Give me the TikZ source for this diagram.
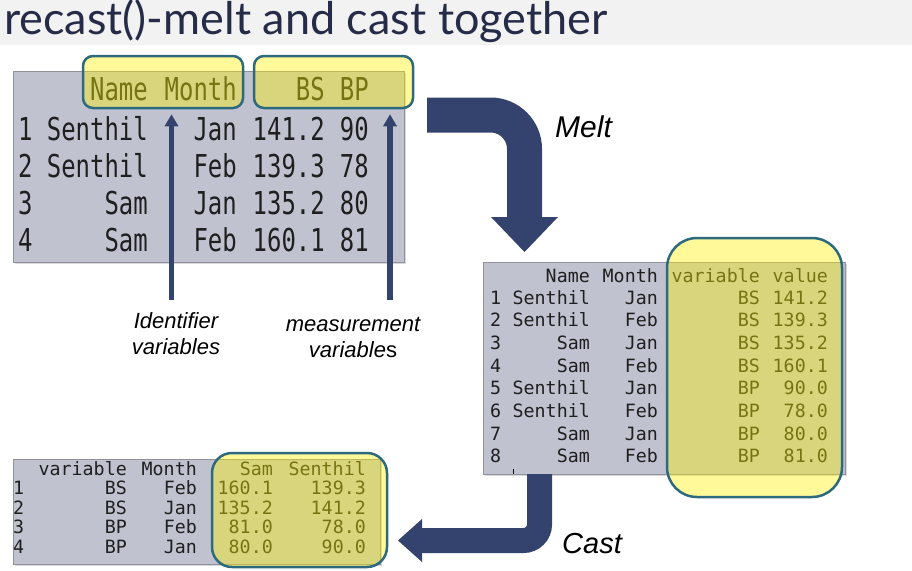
\documentclass[tikz,border=0pt]{standalone}
\usepackage{fontspec}
\setsansfont{Liberation Sans}
\newfontfamily\titlefont{Lato}
\newfontfamily\monofont{DejaVu Sans Mono}
\newfontfamily\tallmono{DejaVu Sans Mono}[FakeStretch=0.76]
\usetikzlibrary{arrows.meta,shadows}
\definecolor{navy}{HTML}{34426E}
\definecolor{slate}{HTML}{C0C2D0}
\definecolor{boxedge}{HTML}{2E6A7E}
\definecolor{titlegray}{HTML}{F2F2F2}
\definecolor{titleink}{HTML}{262C48}
\tikzset{
    tablebox/.style={fill=slate, draw=slate!75!black, line width=0.6pt, inner sep=0,
        drop shadow={shadow xshift=2pt, shadow yshift=-2pt, opacity=0.3}},
    hilite/.style={fill=yellow, fill opacity=0.4, draw=boxedge, draw opacity=1,
        line width=2.5pt, inner sep=0},
    bigcell/.style={font=\tallmono\fontsize{31.5}{36}\selectfont, inner sep=0, text=black!88},
    smallcell/.style={font=\monofont\fontsize{18.3}{22}\selectfont, inner sep=0, text=black!88},
    tag/.style={font=\sffamily\itshape\fontsize{22}{26}\selectfont, align=center, inner sep=0},
    ptr/.style={navy, line width=5.5pt, -{Triangle[width=13pt,length=12pt]}}
}
\begin{document}
\begin{tikzpicture}[x=1pt,y=-1pt]
    \useasboundingbox (0,0) rectangle (912,570);
    \fill[white] (0,0) rectangle (912,570);
    \fill[titlegray] (0,0) rectangle (912,45);
    \node[font=\titlefont\fontsize{45}{50}\selectfont, text=titleink, anchor=base west, inner sep=0]
        (title) at (4,34) {recast()-melt and cast together};

    % wide table
    \node[tablebox, minimum width=391pt, minimum height=191pt] (wide) at (208.5,166.5) {};
    \foreach \lbl/\xr [count=\c] in {Name/148, Month/237, BS/325, BP/369}
        \node[bigcell, anchor=base east] (wh-\c) at (\xr,100) {\lbl};
    \foreach \nm/\mo/\bs/\bp [count=\r] in {Senthil/Jan/141.2/90, Senthil/Feb/139.3/78,
                                              Sam/Jan/135.2/80, Sam/Feb/160.1/81} {
        \node[bigcell, anchor=base west] (w-\r-0) at (18,{103+37*\r}) {\r};
        \node[bigcell, anchor=base east] (w-\r-1) at (148,{103+37*\r}) {\nm};
        \node[bigcell, anchor=base east] (w-\r-2) at (237,{103+37*\r}) {\mo};
        \node[bigcell, anchor=base east] (w-\r-3) at (325,{103+37*\r}) {\bs};
        \node[bigcell, anchor=base east] (w-\r-4) at (369,{103+37*\r}) {\bp};
    }
    \node[hilite, rounded corners=10pt, minimum width=160pt, minimum height=52pt] (idbox) at (163,82) {};
    \node[hilite, rounded corners=10pt, minimum width=159pt, minimum height=52pt] (msbox) at (333.5,82) {};

    % pointers to the boxes
    \node[tag, anchor=base] (idlabel) at (176,354) {Identifier\\variables};
    \node[tag, anchor=base] (mslabel) at (353,357) {measurement\\variable{\upshape s}};
    \coordinate (idfoot) at (171.5,300);
    \coordinate (msfoot) at (390,300);
    \draw[ptr, shorten >=5pt] (idfoot) -- (idfoot |- idbox.south);
    \draw[ptr, shorten >=5pt] (msfoot) -- (msfoot |- msbox.south);

    % melt
    \draw[navy, line width=35pt, rounded corners=34pt] (427,115) -- (524.5,115) -- (524.5,217);
    \fill[navy] (491,217) -- (558,217) -- (524.5,252) -- cycle;
    \node[tag, font=\sffamily\itshape\fontsize{30}{34}\selectfont, anchor=base west] (melt) at (555,137) {Melt};

    % long table
    \node[tablebox, minimum width=362pt, minimum height=212pt] (long) at (664,368) {};
    \foreach \lbl/\xr [count=\c] in {Name/590, Month/658, variable/760, value/828}
        \node[smallcell, anchor=base east] (lh-\c) at (\xr,282) {\lbl};
    \foreach \nm/\mo/\var/\val [count=\r] in {Senthil/Jan/BS/141.2, Senthil/Feb/BS/139.3,
            Sam/Jan/BS/135.2, Sam/Feb/BS/160.1, Senthil/Jan/BP/90.0, Senthil/Feb/BP/78.0,
            Sam/Jan/BP/80.0, Sam/Feb/BP/81.0} {
        \node[smallcell, anchor=base west] (l-\r-0) at (490,{281.3+22.7*\r}) {\r};
        \node[smallcell, anchor=base east] (l-\r-1) at (590,{281.3+22.7*\r}) {\nm};
        \node[smallcell, anchor=base east] (l-\r-2) at (658,{281.3+22.7*\r}) {\mo};
        \node[smallcell, anchor=base east] (l-\r-3) at (760,{281.3+22.7*\r}) {\var};
        \node[smallcell, anchor=base east] (l-\r-4) at (828,{281.3+22.7*\r}) {\val};
    }
    \draw[black, line width=0.8pt] (513,469) -- (513,474);
    \node[hilite, rounded corners=30pt, minimum width=175pt, minimum height=259pt] (valbox) at (754.5,367.5) {};

    % cast
    \draw[navy, line width=25pt, rounded corners=16pt] (539.5,474) -- (539.5,540.5) -- (422,540.5);
    \fill[navy] (422,519) -- (422,562) -- (398,540.5) -- cycle;
    \node[tag, font=\sffamily\itshape\fontsize{29}{33}\selectfont, anchor=base west] (cast) at (562,553) {Cast};

    % cast table
    \node[tablebox, minimum width=367pt, minimum height=105pt] (back) at (196.5,511.5) {};
    \foreach \lbl/\xr [count=\c] in {variable/127, Month/197, Sam/273, Senthil/366}
        \node[smallcell, anchor=base east] (bh-\c) at (\xr,475) {\lbl};
    \foreach \var/\mo/\sam/\sen [count=\r] in {BS/Feb/160.1/139.3, BS/Jan/135.2/141.2,
                                                 BP/Feb/81.0/78.0, BP/Jan/80.0/90.0} {
        \node[smallcell, anchor=base west] (b-\r-0) at (13,{475.6+19.35*\r}) {\r};
        \node[smallcell, anchor=base east] (b-\r-1) at (127,{475.6+19.35*\r}) {\var};
        \node[smallcell, anchor=base east] (b-\r-2) at (197,{475.6+19.35*\r}) {\mo};
        \node[smallcell, anchor=base east] (b-\r-3) at (273,{475.6+19.35*\r}) {\sam};
        \node[smallcell, anchor=base east] (b-\r-4) at (366,{475.6+19.35*\r}) {\sen};
    }
    \node[hilite, rounded corners=20pt, minimum width=175pt, minimum height=114pt] (castbox) at (299.5,510) {};
\end{tikzpicture}
\end{document}
